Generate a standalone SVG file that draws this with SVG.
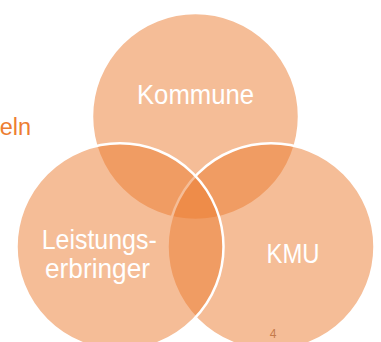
<svg xmlns="http://www.w3.org/2000/svg" width="381" height="342" viewBox="0 0 381 342">
<style>
.c{fill:#EC7C30;fill-opacity:0.5;stroke:#FFFFFF;stroke-width:2.5}
.t{font-family:"Liberation Sans",Arial,sans-serif;font-size:28px;fill:#FFFFFF;text-anchor:middle}
</style>
<rect width="381" height="342" fill="#FFFFFF"/>
<text x="31" y="135" font-family="Liberation Sans, Arial, sans-serif" font-size="23.5" fill="#ED7D31" text-anchor="end">eln</text>
<text x="273" y="338" font-family="Liberation Sans, Arial, sans-serif" font-size="12" fill="#9B7B67" text-anchor="middle">4</text>
<g id="kommune">
<circle class="c" cx="195.5" cy="116.5" r="103.5"/>
<text class="t" x="195.5" y="104" textLength="117" lengthAdjust="spacingAndGlyphs">Kommune</text>
</g>
<g id="kmu">
<circle class="c" cx="271" cy="246.7" r="103.5"/>
<text class="t" x="293" y="263.3" textLength="53" lengthAdjust="spacingAndGlyphs">KMU</text>
</g>
<g id="leistungserbringer">
<circle class="c" cx="120" cy="246.7" r="103.5"/>
<text class="t" x="99.2" y="249" textLength="115" lengthAdjust="spacingAndGlyphs">Leistungs-</text>
<text class="t" x="97.5" y="278" textLength="105" lengthAdjust="spacingAndGlyphs">erbringer</text>
</g>
<g id="connectors"></g>
</svg>
